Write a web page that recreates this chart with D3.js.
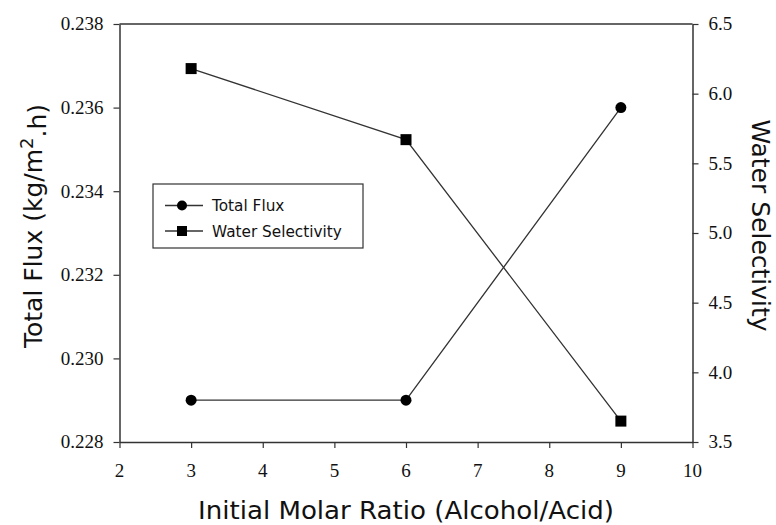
<!DOCTYPE html>
<html>
<head>
<meta charset="utf-8">
<script src="https://cdn.jsdelivr.net/npm/d3@7"></script>
<style>
  html, body { margin: 0; padding: 0; background: #fff; }
  svg { display: block; }
</style>
</head>
<body>
<svg id="chart" width="776" height="525"></svg>
<script>
// Molar ratio (alcohol/acid) tested
const ratios = [3, 6, 9];
// Total flux, kg/m².h
const totalFlux = [0.229, 0.229, 0.236];
// Water selectivity
const waterSelectivity = [6.18, 5.67, 3.65];

const xTicks = [2, 3, 4, 5, 6, 7, 8, 9, 10];
const yLeftTicks = [0.228, 0.230, 0.232, 0.234, 0.236, 0.238];
const yRightTicks = [3.5, 4.0, 4.5, 5.0, 5.5, 6.0, 6.5];

const svg = d3.select("#chart");
const m = { left: 119.5, right: 692.5, top: 24, bottom: 442 };
const ink = "#333";
const SERIF = "Liberation Serif";
const SANS = "DejaVu Sans";

const x = d3.scaleLinear().domain([2, 10]).range([m.left, m.right]);
const yL = d3.scaleLinear().domain([0.228, 0.238]).range([m.bottom, m.top]);
const yR = d3.scaleLinear().domain([3.5, 6.5]).range([m.bottom, m.top]);

// axis lines and tick marks come from d3.axis; the numbers are set as plain text below
function styleAxis(g) {
  g.selectAll("path.domain").attr("stroke", ink).attr("stroke-width", 1.5);
  g.selectAll(".tick line").attr("stroke", ink).attr("stroke-width", 1.2);
  g.selectAll(".tick text").remove();
}

// top frame line
svg.append("line")
  .attr("x1", m.left).attr("x2", m.right).attr("y1", m.top).attr("y2", m.top)
  .attr("stroke", ink).attr("stroke-width", 1.5);

svg.append("g").attr("transform", `translate(0,${m.bottom})`)
  .call(d3.axisBottom(x).tickValues(xTicks).tickSize(6).tickSizeOuter(0))
  .call(styleAxis);
svg.append("g").attr("transform", `translate(${m.left},0)`)
  .call(d3.axisLeft(yL).tickValues(yLeftTicks).tickSize(6).tickSizeOuter(0))
  .call(styleAxis);
svg.append("g").attr("transform", `translate(${m.right},0)`)
  .call(d3.axisRight(yR).tickValues(yRightTicks).tickSize(6).tickSizeOuter(0))
  .call(styleAxis);

// tick numbers
const numStyle = sel => sel.attr("font-family", SERIF).attr("font-size", 19).attr("fill", "#111");
svg.append("g").selectAll("text").data(xTicks).join("text")
  .attr("x", d => x(d)).attr("y", 477).attr("text-anchor", "middle")
  .call(numStyle).text(d3.format("d"));
svg.append("g").selectAll("text").data(yLeftTicks).join("text")
  .attr("x", m.left - 16).attr("y", d => yL(d)).attr("dy", "0.34em").attr("text-anchor", "end")
  .call(numStyle).text(d3.format(".3f"));
svg.append("g").selectAll("text").data(yRightTicks).join("text")
  .attr("x", m.right + 16).attr("y", d => yR(d)).attr("dy", "0.34em").attr("text-anchor", "start")
  .call(numStyle).text(d3.format(".1f"));

// series lines
const fluxPts = ratios.map((r, i) => [x(r), yL(totalFlux[i])]);
const selPts = ratios.map((r, i) => [x(r), yR(waterSelectivity[i])]);
const line = d3.line();
svg.append("path").attr("d", line(fluxPts)).attr("fill", "none").attr("stroke", ink).attr("stroke-width", 1.3);
svg.append("path").attr("d", line(selPts)).attr("fill", "none").attr("stroke", ink).attr("stroke-width", 1.3);

// markers
svg.selectAll("circle.flux").data(fluxPts).join("circle")
  .attr("class", "flux").attr("cx", d => d[0]).attr("cy", d => d[1]).attr("r", 5.5).attr("fill", "#000");
const sq = 11;
svg.selectAll("rect.sel").data(selPts).join("rect")
  .attr("class", "sel").attr("x", d => d[0] - sq / 2).attr("y", d => d[1] - sq / 2)
  .attr("width", sq).attr("height", sq).attr("fill", "#000");

// legend
const lg = svg.append("g");
lg.append("rect").attr("x", 153).attr("y", 184).attr("width", 210).attr("height", 64)
  .attr("fill", "#fff").attr("stroke", ink).attr("stroke-width", 1.2);
const legendItems = [
  { label: "Total Flux", y: 205.5, shape: "circle" },
  { label: "Water Selectivity", y: 231, shape: "square" }
];
legendItems.forEach(it => {
  lg.append("line").attr("x1", 165).attr("x2", 203).attr("y1", it.y).attr("y2", it.y)
    .attr("stroke", ink).attr("stroke-width", 1.3);
  if (it.shape === "circle") {
    lg.append("circle").attr("cx", 182).attr("cy", it.y).attr("r", 5).attr("fill", "#000");
  } else {
    lg.append("rect").attr("x", 182 - 5).attr("y", it.y - 5).attr("width", 10).attr("height", 10).attr("fill", "#000");
  }
  lg.append("text").attr("font-family", SANS).attr("x", 212).attr("y", it.y).attr("dy", "0.36em")
    .attr("font-size", 15.3).attr("fill", "#111").text(it.label);
});

// axis titles
svg.append("text").attr("font-family", SANS)
  .attr("x", 406).attr("y", 519).attr("text-anchor", "middle")
  .attr("font-size", 25).attr("fill", "#111")
  .attr("textLength", 416).attr("lengthAdjust", "spacingAndGlyphs")
  .text("Initial Molar Ratio (Alcohol/Acid)");

const lt = svg.append("text").attr("font-family", SANS)
  .attr("transform", `translate(42,226) rotate(-90)`)
  .attr("text-anchor", "middle")
  .attr("font-size", 25).attr("fill", "#111");
lt.append("tspan").text("Total Flux (kg/m");
lt.append("tspan").attr("dy", "-0.5em").attr("font-size", 18).text("2");
lt.append("tspan").attr("dy", "0.5em").text(".h)");

svg.append("text").attr("font-family", SANS)
  .attr("transform", `translate(752,225.5) rotate(90)`)
  .attr("text-anchor", "middle")
  .attr("font-size", 25).attr("fill", "#111")
  .text("Water Selectivity");
</script>
</body>
</html>
